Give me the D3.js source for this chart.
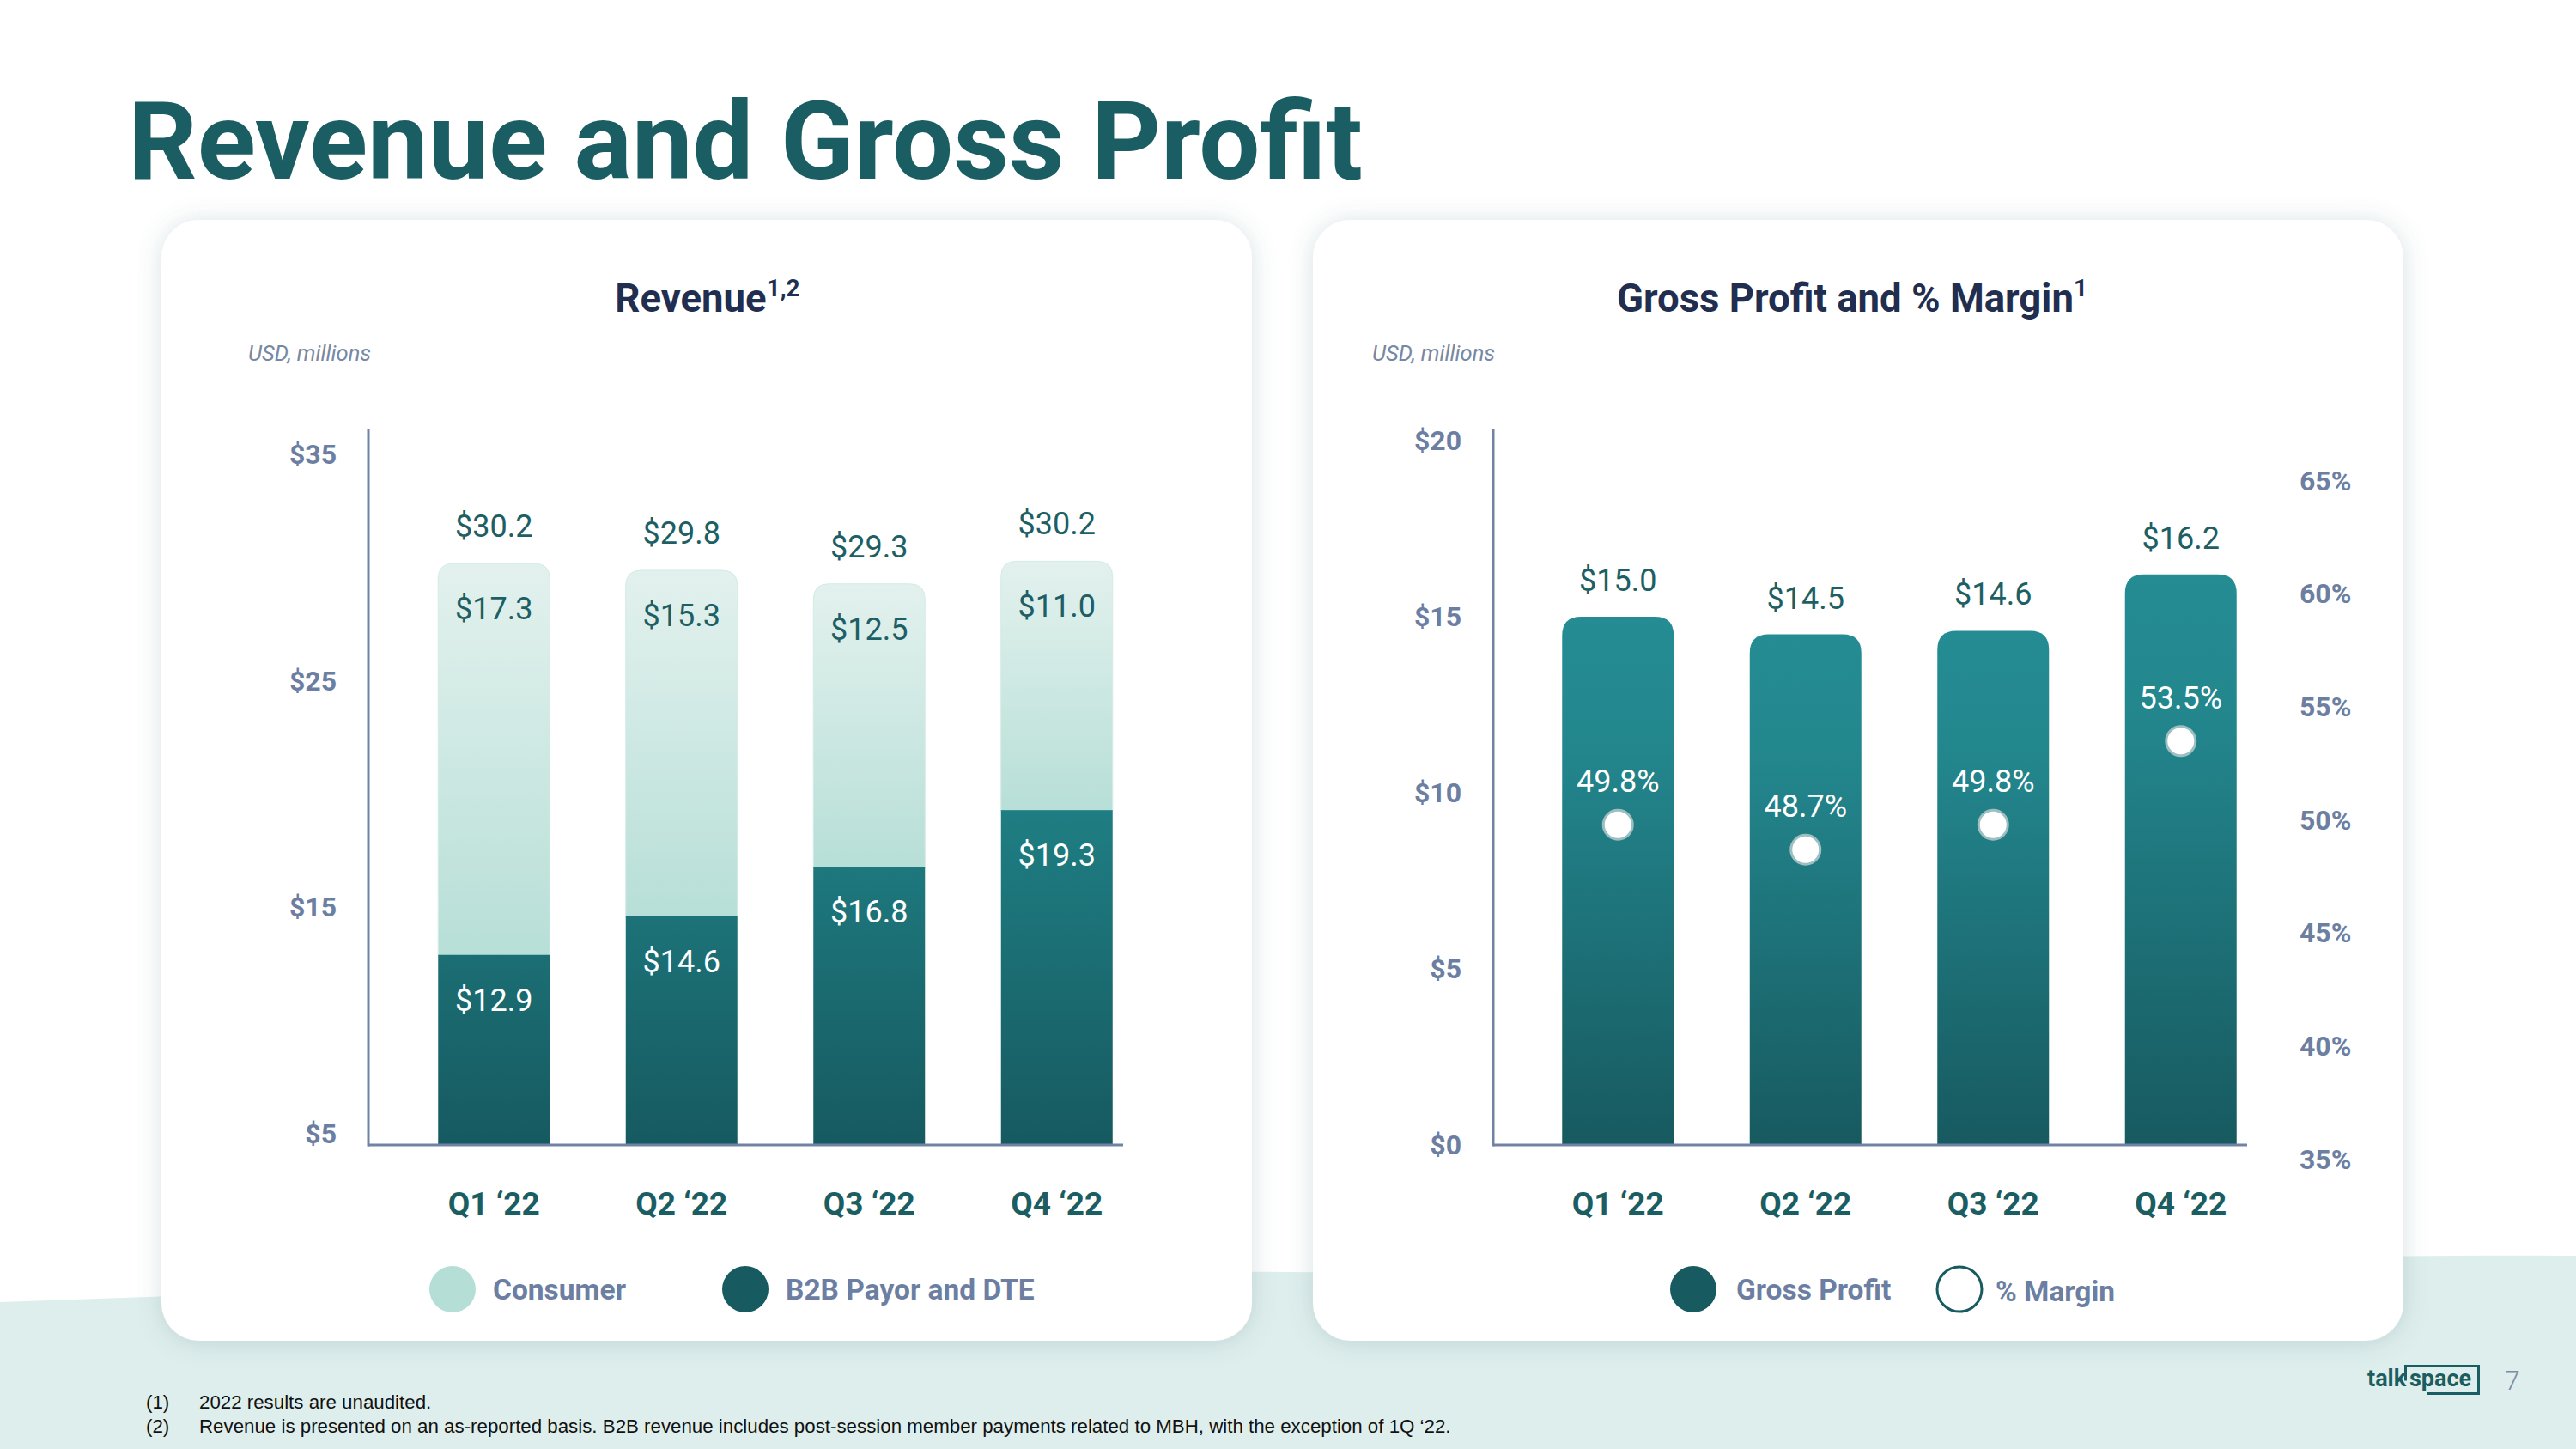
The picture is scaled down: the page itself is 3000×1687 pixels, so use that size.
<!DOCTYPE html>
<html><head><meta charset="utf-8">
<script src="https://cdn.jsdelivr.net/npm/d3@7"></script>
<style>
body{margin:0;background:#fff;}
svg{display:block;font-family:Roboto,"Noto Sans",sans-serif;}
</style>
</head><body>
<svg id="c" width="3000" height="1687"></svg>
<script>
// ---- data ----
const quarters = ["Q1 ‘22", "Q2 ‘22", "Q3 ‘22", "Q4 ‘22"];
const consumerRevenue = [17.3, 15.3, 12.5, 11.0];
const b2bRevenue = [12.9, 14.6, 16.8, 19.3];
const totalRevenue = [30.2, 29.8, 29.3, 30.2];
const grossProfit = [15.0, 14.5, 14.6, 16.2];
const grossMargin = [49.8, 48.7, 49.8, 53.5];
const revenueTicks = [5, 15, 25, 35];
const profitTicks = [0, 5, 10, 15, 20];
const marginTicks = [35, 40, 45, 50, 55, 60, 65];
const revenueLegend = ["Consumer", "B2B Payor and DTE"];
const profitLegend = ["Gross Profit", "% Margin"];
const footnotes = [
  ["(1)", "2022 results are unaudited."],
  ["(2)", "Revenue is presented on an as-reported basis. B2B revenue includes post-session member payments related to MBH, with the exception of 1Q ‘22."]
];

const svg = d3.select("#c");
const defs = svg.append("defs");

// colours
const TEAL = "#1a5e63", NAVY = "#212e4f", SLATE = "#6c7fa2", AXIS = "#7183a5";

// gradients
function grad(id, stops, user) {
  const g = defs.append("linearGradient").attr("id", id)
    .attr("x1", 0).attr("x2", 0).attr("y1", user ? user[0] : 0).attr("y2", user ? user[1] : 1);
  if (user) g.attr("gradientUnits", "userSpaceOnUse");
  stops.forEach(s => g.append("stop").attr("offset", s[0]).attr("stop-color", s[1]));
}
grad("gCons", [[0, "#e3f1ee"], [1, "#b7dfd7"]]);
grad("gB2B", [[0, "#1f8085"], [1, "#165a60"]], [920, 1333]);
grad("gGP", [[0, "#258c94"], [0.25, "#23868d"], [1, "#175a60"]]);

const f = defs.append("filter").attr("id", "sh").attr("x", "-10%").attr("y", "-10%").attr("width", "120%").attr("height", "120%");
f.append("feDropShadow").attr("dx", 0).attr("dy", 2).attr("stdDeviation", 14)
  .attr("flood-color", "#5b7f86").attr("flood-opacity", 0.24);

// background wave
svg.append("path")
  .attr("d", "M0,1516 C600,1494 1200,1476 1600,1482 S2600,1458 3000,1462 V1687 H0 Z")
  .attr("fill", "#deeeec");

// main title
svg.append("text").attr("x", 149).attr("y", 208)
  .attr("font-size", 126).attr("font-weight", 700).attr("fill", TEAL)
  .text("Revenue and Gross Profit");

// cards
[188, 1529].forEach(x => svg.append("rect").attr("x", x).attr("y", 256)
  .attr("width", 1270).attr("height", 1305).attr("rx", 44)
  .attr("fill", "#fff").attr("filter", "url(#sh)"));

function topRounded(x, y, w, h, r) {
  r = Math.min(r, h);
  return `M${x},${y + h}V${y + r}Q${x},${y} ${x + r},${y}H${x + w - r}Q${x + w},${y} ${x + w},${y + r}V${y + h}Z`;
}

function cardTitle(cx, main, sup) {
  const t = svg.append("text").attr("x", cx).attr("y", 363).attr("text-anchor", "middle")
    .attr("font-size", 45.5).attr("font-weight", 700).attr("fill", NAVY);
  t.append("tspan").text(main);
  t.append("tspan").attr("font-size", 28).attr("dy", -18).text(sup);
}
function unitLabel(x) {
  svg.append("text").attr("x", x).attr("y", 420).attr("font-size", 25.5)
    .attr("font-style", "italic").attr("fill", "#7788a3").text("USD, millions");
}

// ================= Revenue chart =================
cardTitle(824, "Revenue", "1,2");
unitLabel(289);

const xRev = d3.scaleBand().domain(quarters).range([466, 1340]).paddingInner(0.405).paddingOuter(0.2025);
const yRev = d3.scaleLinear().domain([4.5, 35]).range([1333, 529.6]).clamp(true);

const stackData = quarters.map((q, i) => ({ q, b2b: b2bRevenue[i], consumer: consumerRevenue[i], total: totalRevenue[i] }));
const stacked = d3.stack().keys(["b2b", "consumer"])(stackData);

const gRev = svg.append("g");
// consumer (top segment, rounded)
gRev.selectAll("path.cons").data(stacked[1]).join("path").attr("class", "cons")
  .attr("d", d => {
    const x = xRev(d.data.q), y0 = yRev(d[0]), y1 = yRev(d[1]);
    return topRounded(x, y1, xRev.bandwidth(), y0 - y1 + 1, 18);
  })
  .attr("fill", "url(#gCons)").attr("stroke", "#d3ebe6").attr("stroke-width", 1);
// b2b (bottom)
gRev.selectAll("rect.b2b").data(stacked[0]).join("rect").attr("class", "b2b")
  .attr("x", d => xRev(d.data.q)).attr("width", xRev.bandwidth())
  .attr("y", d => yRev(d[1])).attr("height", d => yRev(d[0]) - yRev(d[1]))
  .attr("fill", "url(#gB2B)");

// labels
const valFmt = v => "$" + v.toFixed(1);
gRev.selectAll("text.tot").data(stackData).join("text")
  .attr("x", d => xRev(d.q) + xRev.bandwidth() / 2).attr("y", d => yRev(d.b2b + d.consumer) - 31)
  .attr("text-anchor", "middle").attr("font-size", 36).attr("fill", "#1d5f64").text(d => valFmt(d.total));
gRev.selectAll("text.con").data(stackData).join("text")
  .attr("x", d => xRev(d.q) + xRev.bandwidth() / 2).attr("y", d => yRev(d.b2b + d.consumer) + 65)
  .attr("text-anchor", "middle").attr("font-size", 36).attr("fill", "#1d5f64").text(d => valFmt(d.consumer));
gRev.selectAll("text.b2bl").data(stackData).join("text")
  .attr("x", d => xRev(d.q) + xRev.bandwidth() / 2).attr("y", d => yRev(d.b2b) + 65)
  .attr("text-anchor", "middle").attr("font-size", 36).attr("fill", "#ffffff").text(d => valFmt(d.b2b));

// axes
const axRevY = svg.append("g").attr("transform", "translate(429,0)")
  .call(d3.axisLeft(yRev).tickValues(revenueTicks).tickFormat(d => "$" + d).tickSize(0).tickPadding(37));
axRevY.select(".domain").remove();
axRevY.selectAll("text").attr("font-size", 32).attr("font-weight", 700).attr("fill", SLATE).attr("font-family", "Roboto");
svg.append("line").attr("x1", 429).attr("x2", 429).attr("y1", 499).attr("y2", yRev.range()[0] + 1.5)
  .attr("stroke", AXIS).attr("stroke-width", 3);
svg.append("line").attr("x1", 429).attr("x2", 1308).attr("y1", yRev.range()[0]).attr("y2", yRev.range()[0])
  .attr("stroke", AXIS).attr("stroke-width", 3);

const axRevX = svg.append("g").attr("transform", `translate(0,${yRev.range()[0]})`)
  .call(d3.axisBottom(xRev).tickSize(0).tickPadding(55));
axRevX.select(".domain").remove();
axRevX.selectAll("text").attr("font-size", 37).attr("font-weight", 700).attr("fill", TEAL).attr("font-family", "Roboto");

// legend
const revLegX = [527, 868];
const revLegFill = ["#b5ded6", "#175b61"];
revenueLegend.forEach((name, i) => {
  svg.append("circle").attr("cx", revLegX[i]).attr("cy", 1501).attr("r", 27).attr("fill", revLegFill[i]);
  svg.append("text").attr("x", revLegX[i] + 47).attr("y", 1513).attr("font-size", 33.5).attr("font-weight", 700)
    .attr("fill", SLATE).text(name);
});

// ================= Gross profit chart =================
cardTitle(2157, "Gross Profit and % Margin", "1");
unitLabel(1598);

const xGP = d3.scaleBand().domain(quarters).range([1775, 2649]).paddingInner(0.405).paddingOuter(0.2025);
const yGP = d3.scaleLinear().domain([0, 20]).range([1333, 513]);
const yPct = d3.scaleLinear().domain([35, 65]).range([1350, 560]);

const gpData = quarters.map((q, i) => ({ q, gp: grossProfit[i], m: grossMargin[i] }));
const gGP = svg.append("g");
gGP.selectAll("path.gp").data(gpData).join("path")
  .attr("d", d => topRounded(xGP(d.q), yGP(d.gp), xGP.bandwidth(), yGP(0) - yGP(d.gp), 22))
  .attr("fill", "url(#gGP)");
gGP.selectAll("text.gpl").data(gpData).join("text")
  .attr("x", d => xGP(d.q) + xGP.bandwidth() / 2).attr("y", d => yGP(d.gp) - 30)
  .attr("text-anchor", "middle").attr("font-size", 36).attr("fill", "#1d5f64").text(d => valFmt(d.gp));
gGP.selectAll("circle.m").data(gpData).join("circle")
  .attr("cx", d => xGP(d.q) + xGP.bandwidth() / 2).attr("cy", d => yPct(d.m)).attr("r", 17)
  .attr("fill", "#fff").attr("stroke", "#9dbfc2").attr("stroke-width", 3);
gGP.selectAll("text.ml").data(gpData).join("text")
  .attr("x", d => xGP(d.q) + xGP.bandwidth() / 2).attr("y", d => yPct(d.m) - 38)
  .attr("text-anchor", "middle").attr("font-size", 36).attr("fill", "#ffffff").text(d => d.m.toFixed(1) + "%");

const axGPY = svg.append("g").attr("transform", "translate(1739,0)")
  .call(d3.axisLeft(yGP).tickValues(profitTicks).tickFormat(d => "$" + d).tickSize(0).tickPadding(37));
axGPY.select(".domain").remove();
axGPY.selectAll("text").attr("font-size", 32).attr("font-weight", 700).attr("fill", SLATE).attr("font-family", "Roboto");

const axPct = svg.append("g").attr("transform", "translate(2670,0)")
  .call(d3.axisRight(yPct).tickValues(marginTicks).tickFormat(d => d + "%").tickSize(0).tickPadding(8));
axPct.select(".domain").remove();
axPct.selectAll("text").attr("font-size", 32).attr("font-weight", 700).attr("fill", SLATE).attr("font-family", "Roboto");

svg.append("line").attr("x1", 1739).attr("x2", 1739).attr("y1", 499).attr("y2", yGP.range()[0] + 1.5)
  .attr("stroke", AXIS).attr("stroke-width", 3);
svg.append("line").attr("x1", 1739).attr("x2", 2617).attr("y1", yGP.range()[0]).attr("y2", yGP.range()[0])
  .attr("stroke", AXIS).attr("stroke-width", 3);

const axGPX = svg.append("g").attr("transform", `translate(0,${yGP.range()[0]})`)
  .call(d3.axisBottom(xGP).tickSize(0).tickPadding(55));
axGPX.select(".domain").remove();
axGPX.selectAll("text").attr("font-size", 37).attr("font-weight", 700).attr("fill", TEAL).attr("font-family", "Roboto");

const gpLegX = [1972, 2282];
profitLegend.forEach((name, i) => {
  svg.append("circle").attr("cx", gpLegX[i]).attr("cy", 1501).attr("r", i ? 26 : 27)
    .attr("fill", i ? "#fff" : "#175b61").attr("stroke", i ? "#175b61" : "none").attr("stroke-width", 3);
  svg.append("text").attr("x", gpLegX[i] + (i ? 42 : 50)).attr("y", i ? 1515 : 1513).attr("font-size", 33.5).attr("font-weight", 700)
    .attr("fill", SLATE).text(name);
});

// footnotes
footnotes.forEach((fn, i) => {
  const y = 1640 + i * 28;
  svg.append("text").attr("x", 170).attr("y", y).attr("font-size", 22.3)
    .attr("font-family", "Liberation Sans, Arial, sans-serif").attr("fill", "#111").text(fn[0]);
  svg.append("text").attr("x", 232).attr("y", y).attr("font-size", 22.3)
    .attr("font-family", "Liberation Sans, Arial, sans-serif").attr("fill", "#111").text(fn[1]);
});

// logo + page number
svg.append("text").attr("x", 2757).attr("y", 1614).attr("font-size", 27).attr("font-weight", 700)
  .attr("fill", TEAL).text("talk");
svg.append("text").attr("x", 2806).attr("y", 1614).attr("font-size", 27).attr("font-weight", 700)
  .attr("fill", TEAL).text("space");
svg.append("path").attr("d", "M2826,1622.5H2886.5V1590.5H2801.5V1607.5")
  .attr("fill", "none").attr("stroke", TEAL).attr("stroke-width", 3);
svg.append("text").attr("x", 2917).attr("y", 1618).attr("font-size", 32).attr("font-weight", 300)
  .attr("fill", "#7d8ba3").text("7");
</script>
</body></html>
